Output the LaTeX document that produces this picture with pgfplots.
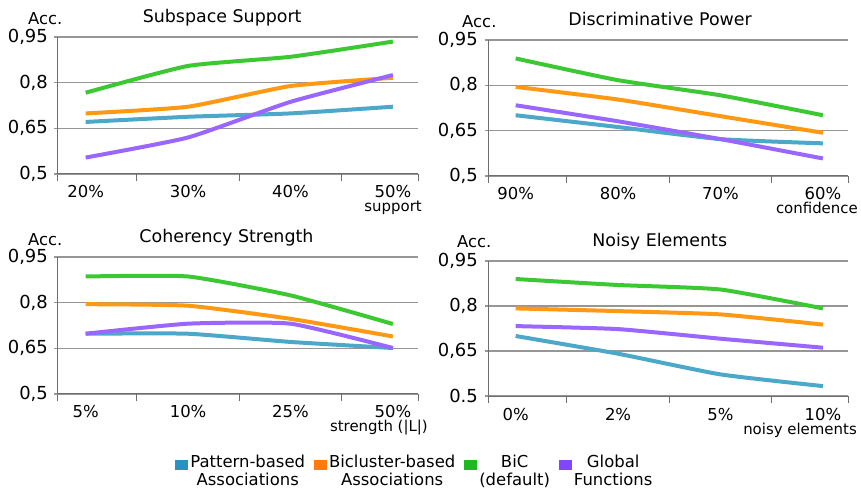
\documentclass[border=0pt]{standalone}
\usepackage{fontspec}
\setmainfont{DejaVu Sans}
\usepackage{pgfplots}
\pgfplotsset{compat=1.18}
\definecolor{cblue}{RGB}{75,168,200}
\definecolor{corange}{RGB}{255,153,20}
\definecolor{cgreen}{RGB}{60,200,50}
\definecolor{cpurple}{RGB}{153,102,255}
\definecolor{lblue}{RGB}{40,148,190}
\definecolor{lorange}{RGB}{255,122,16}
\definecolor{lgreen}{RGB}{30,185,30}
\definecolor{lpurple}{RGB}{130,70,255}
\definecolor{gridc}{RGB}{150,150,150}
\definecolor{axisc}{RGB}{110,110,110}

\tikzset{acc/.style={anchor=base west, inner sep=0pt, font=\fontsize{16.5}{18}\selectfont}}
\pgfplotsset{
  panel/.style={
    scale only axis, width=360bp, height=137bp,
    axis x line=bottom, axis y line=left,
    axis line style={-, draw=axisc, line width=1bp},
    xmin=-0.27, xmax=3.245, ymin=0.5, ymax=0.95,
    ytick={0.5,0.65,0.8,0.95},
    minor ytick={0.5,0.65,0.8,0.95},
    minor tick length=3.5bp,
    ymajorgrids, major grid style={draw=gridc, line width=1.2bp},
    major y tick style={draw=none},
    minor y tick style={draw=gridc, line width=1.2bp},
    xtick={-0.27,0.5,1.5,2.5,3.245},
    xticklabels={},
    xtick style={draw=axisc, line width=1bp},
    extra x ticks={0,1,2,3},
    extra x tick style={grid=none, major tick length=0pt},
    tick align=outside, major tick length=7bp,
    yticklabel style={font=\fontsize{18}{20}\selectfont, anchor=east, inner sep=0pt, xshift=-3bp},
    xticklabel style={font=\fontsize{16.5}{18}\selectfont, anchor=base, inner sep=0pt, yshift=-24bp},
    title style={anchor=base, yshift=8.5bp, inner sep=0pt, font=\fontsize{17.5}{20}\selectfont},
    xlabel style={at={(axis description cs:1,0)}, anchor=base east, inner sep=0pt, yshift=-38bp, font=\fontsize{15}{17}\selectfont},
    clip=false,
    every axis plot/.append style={line width=4bp, smooth, tension=0.3, mark=none},
  },
}

\begin{document}
\begin{tikzpicture}
\useasboundingbox (0,0) rectangle (861bp,492bp);

% Subspace Support
\begin{axis}[panel, at={(58bp,318bp)}, anchor=south west,
  title={Subspace Support}, title style={at={(0.456,1)}},
  yticklabels={{0,5},{0,65},{0,8},{0,95}},
  extra x tick labels={20\%,30\%,40\%,50\%},
  xlabel={support}, xlabel style={xshift=4bp}]
\addplot[cblue] coordinates {(0,0.671) (1,0.688) (2,0.699) (3,0.721)};
\addplot[corange] coordinates {(0,0.699) (1,0.721) (2,0.789) (3,0.816)};
\addplot[cgreen] coordinates {(0,0.767) (1,0.855) (2,0.885) (3,0.935)};
\addplot[cpurple] coordinates {(0,0.554) (1,0.620) (2,0.737) (3,0.825)};
\node[acc, xshift=-30bp, yshift=13bp] at (axis description cs:0,1) {Acc.};
\end{axis}

% Discriminative Power
\begin{axis}[panel, at={(488bp,316bp)}, anchor=south west, height=136bp,
  title={Discriminative Power}, title style={at={(0.478,1)}},
  yticklabels={{0,5},{0,65},{0,8},{0,95}},
  extra x tick labels={90\%,80\%,70\%,60\%},
  xlabel={confidence}, xlabel style={xshift=10bp}]
\addplot[cblue] coordinates {(0,0.701) (1,0.662) (2,0.622) (3,0.608)};
\addplot[corange] coordinates {(0,0.795) (1,0.753) (2,0.698) (3,0.643)};
\addplot[cgreen] coordinates {(0,0.889) (1,0.817) (2,0.767) (3,0.701)};
\addplot[cpurple] coordinates {(0,0.734) (1,0.681) (2,0.622) (3,0.558)};
\node[acc, xshift=-26bp, yshift=12bp] at (axis description cs:0,1) {Acc.};
\end{axis}

% Coherency Strength
\begin{axis}[panel, at={(58bp,98bp)}, anchor=south west,
  title={Coherency Strength}, title style={at={(0.468,1)}},
  yticklabels={{0,5},{0,65},{0,8},{0,95}},
  extra x tick labels={5\%,10\%,25\%,50\%},
  xlabel={strength (|L|)}, xlabel style={xshift=10bp}]
\addplot[cblue] coordinates {(0,0.698) (1,0.698) (2,0.671) (3,0.651)};
\addplot[corange] coordinates {(0,0.795) (1,0.790) (2,0.747) (3,0.689)};
\addplot[cgreen] coordinates {(0,0.886) (1,0.886) (2,0.824) (3,0.730)};
\addplot[cpurple] coordinates {(0,0.698) (1,0.731) (2,0.731) (3,0.651)};
\node[acc, xshift=-30bp, yshift=12bp] at (axis description cs:0,1) {Acc.};
\end{axis}

% Noisy Elements
\begin{axis}[panel, at={(488bp,96bp)}, anchor=south west, height=135bp,
  title={Noisy Elements}, title style={at={(0.477,1)}},
  yticklabels={{0.5},{0,65},{0,8},{0,95}},
  extra x tick labels={0\%,2\%,5\%,10\%},
  xlabel={noisy elements}, xlabel style={xshift=9bp},
  legend style={at={(axis description cs:-0.203,-0.556)}, anchor=center,
    draw=none, fill=none, legend columns=4, inner sep=0pt,
    font=\fontsize{16.5}{18.5}\selectfont, cells={align=center},
    /tikz/every even column/.append style={column sep=7bp}},
  legend image code/.code={\fill[#1, draw=none] (0bp,1bp) rectangle (13bp,11bp);}]
\addplot[cblue, forget plot] coordinates {(0,0.700) (1,0.641) (2,0.572) (3,0.533)};
\addplot[corange, forget plot] coordinates {(0,0.792) (1,0.783) (2,0.772) (3,0.738)};
\addplot[cgreen, forget plot] coordinates {(0,0.890) (1,0.870) (2,0.855) (3,0.792)};
\addplot[cpurple, forget plot] coordinates {(0,0.733) (1,0.723) (2,0.691) (3,0.661)};
\addlegendimage{lblue}
\addlegendentry{Pattern-based\\Associations}
\addlegendimage{lorange}
\addlegendentry{Bicluster-based\\Associations}
\addlegendimage{lgreen}
\addlegendentry{BiC\\(default)}
\addlegendimage{lpurple}
\addlegendentry{Global\\Functions}
\node[acc, xshift=-31bp, yshift=14bp] at (axis description cs:0,1) {Acc.};
\end{axis}
\end{tikzpicture}
\end{document}
